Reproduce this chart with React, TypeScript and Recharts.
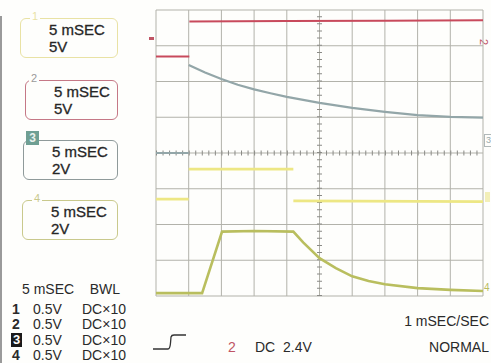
import React from "react";
import { LineChart, Line, XAxis, YAxis, ReferenceLine } from "recharts";

// Time in divisions (0..10), amplitude in divisions (0..8, from bottom)
const divX = [0, 1, 2, 3, 4, 5, 6, 7, 8, 9, 10];
const divY = [0, 1, 2, 3, 4, 5, 6, 7, 8];

// Channel 1 (yellow): low, pulse high, back low
const ch1X = [0, 1, 1, 1, 4.2, 4.2, 4.2, 10];
const ch1Y = [2.71, 2.71, null, 3.55, 3.55, null, 2.66, 2.64];

// Channel 2 (red): step up at trigger
const ch2X = [0, 1.02, 1.02, 1.02, 4, 7, 10];
const ch2Y = [6.7, 6.7, null, 7.68, 7.69, 7.7, 7.71];

// Channel 3 (grey): baseline then decaying curve
const ch3X = [0, 1, 1, 1, 1.5, 2, 2.5, 3, 3.5, 4, 5, 6, 7, 8, 9, 10];
const ch3Y = [4.0, 4.0, null, 6.46, 6.25, 6.07, 5.91, 5.78, 5.67, 5.57, 5.4, 5.26, 5.15, 5.06, 5.01, 4.99];

// Channel 4 (green): ramp up, flat, exponential fall
const ch4X = [0, 1.41, 2.02, 3, 4.2, 4.5, 5, 5.5, 6, 6.5, 7, 8, 9, 10];
const ch4Y = [0.08, 0.08, 1.8, 1.82, 1.8, 1.5, 1.06, 0.78, 0.55, 0.42, 0.33, 0.22, 0.17, 0.14];

const boxes = [
  { label: "1", time: "5 mSEC", volts: "5V", color: "#e9e2a4" },
  { label: "2", time: "5 mSEC", volts: "5V", color: "#c57886" },
  { label: "3", time: "5 mSEC", volts: "2V", color: "#8f9a9a" },
  { label: "4", time: "5 mSEC", volts: "2V", color: "#c9c98c" },
];
const chanRows = ["1", "2", "3", "4"];
const chanScale = ["0.5V", "0.5V", "0.5V", "0.5V"];
const chanCoupling = ["DC×10", "DC×10", "DC×10", "DC×10"];

const pts = (xs: number[], ys: (number | null)[]) => xs.map((x, i) => ({ x, y: ys[i] }));

const FONT = "'Liberation Sans', Arial, sans-serif";
const boxTops = [18, 80, 140, 200];
const boxLefts = [20, 25, 23, 22];
const GRID = "#b2b2aa";

export default function App() {
  return (
    <div style={{ position: "absolute", left: 0, top: 0, width: 491, height: 363, background: "#fefefc", fontFamily: FONT, color: "#2a2a2a", overflow: "hidden" }}>
      <div style={{ position: "absolute", left: 0, top: 16, width: 2, height: 347, background: "#9a9a9a" }} />
      {boxes.map((b, i) => (
        <div key={b.label} style={{ position: "absolute", left: boxLefts[i], top: boxTops[i], width: 118 - boxLefts[i], height: 40, border: `1.5px solid ${b.color}`, borderRadius: 6, boxSizing: "border-box" }}>
          <div style={{ position: "absolute", left: 28, top: 2, fontSize: 15, lineHeight: "17px", color: "#262626", WebkitTextStroke: "0.3px #262626" }}>
            <div>{b.time}</div>
            <div>{b.volts}</div>
          </div>
          {i === 2 ? (
            <div style={{ position: "absolute", left: 2, top: -10, width: 13, height: 14, background: "#6f9f93", color: "#e8f0ec", fontSize: 12, lineHeight: "14px", textAlign: "center", fontWeight: 700 }}>3</div>
          ) : (
            <div style={{ position: "absolute", left: i === 1 ? 3 : 9, top: -9, padding: "0 2px", background: "#fefefc", fontSize: 11, lineHeight: "12px", color: i === 1 ? "#9a9a9a" : b.color }}>{b.label}</div>
          )}
        </div>
      ))}

      <div style={{ position: "absolute", left: 22, top: 281, fontSize: 14, whiteSpace: "pre" }}>5 mSEC    BWL</div>
      {chanRows.map((c, i) => (
        <div key={c} style={{ position: "absolute", left: 0, top: 301 + i * 15.3, fontSize: 14, lineHeight: "16px", whiteSpace: "pre", width: 150 }}>
          {i === 2 ? (
            <span style={{ position: "absolute", left: 11, top: 1, width: 11, height: 14, background: "#1a1a1a", color: "#fff", fontWeight: 700, textAlign: "center", lineHeight: "14px", fontSize: 13 }}>{c}</span>
          ) : (
            <span style={{ position: "absolute", left: 12, fontWeight: 700 }}>{c}</span>
          )}
          <span style={{ position: "absolute", left: 33 }}>{chanScale[i]}</span>
          <span style={{ position: "absolute", left: 82 }}>{chanCoupling[i]}</span>
        </div>
      ))}

      <svg style={{ position: "absolute", left: 150, top: 333 }} width={40} height={20}>
        <path d="M3 16 L18 16 Q20 16 20.5 10 L21 4 Q21.5 2 24 2 L36 2" fill="none" stroke="#333" strokeWidth={1.3} />
      </svg>
      <div style={{ position: "absolute", left: 228, top: 339, fontSize: 14, color: "#c05464" }}>2</div>
      <div style={{ position: "absolute", left: 255, top: 339, fontSize: 14, whiteSpace: "pre" }}>DC  2.4V</div>
      <div style={{ position: "absolute", right: 2, top: 313, fontSize: 14 }}>1 mSEC/SEC</div>
      <div style={{ position: "absolute", right: 2, top: 339, fontSize: 14 }}>NORMAL</div>

      <div style={{ position: "absolute", left: 149, top: 37, width: 5, height: 3, background: "#c05464" }} />
      <div style={{ position: "absolute", left: 481, top: 36, fontSize: 11, color: "#c05464", transform: "rotate(90deg)" }}>2</div>
      <div style={{ position: "absolute", left: 484, top: 134, width: 7, height: 11, border: "1px solid #b0b8b8", fontSize: 9, lineHeight: "11px", color: "#9aa", textAlign: "center" }}>3</div>
      <div style={{ position: "absolute", left: 485, top: 192, width: 5, height: 10, background: "#f3efb8" }} />
      <div style={{ position: "absolute", left: 484, top: 282, fontSize: 10, color: "#b8bc60" }}>4</div>

      <div style={{ position: "absolute", left: 0, top: 0 }}>
        <LineChart width={491} height={363} margin={{ top: 10, right: 8, bottom: 67, left: 156 }}>
          <XAxis type="number" dataKey="x" domain={[0, 10]} ticks={divX} hide />
          <YAxis type="number" domain={[0, 8]} ticks={divY} hide />
          {divX.map((v) => (
            <Line key={"gv" + v} data={[{ x: v, y: 0 }, { x: v, y: 8 }]} dataKey="y" type="linear" stroke={GRID} strokeWidth={1} dot={false} activeDot={false} isAnimationActive={false} />
          ))}
          {divY.map((v) => (
            <Line key={"gh" + v} data={[{ x: 0, y: v }, { x: 10, y: v }]} dataKey="y" type="linear" stroke={GRID} strokeWidth={1} dot={false} activeDot={false} isAnimationActive={false} />
          ))}
          <ReferenceLine y={4} stroke="#8a8a86" strokeWidth={5} strokeDasharray="1 5.54" />
          <ReferenceLine x={5} stroke="#8a8a86" strokeWidth={5} strokeDasharray="1 6.15" />
          <Line data={pts(ch3X, ch3Y)} dataKey="y" type="linear" stroke="#93a6a8" strokeWidth={2.2} dot={false} connectNulls={false} isAnimationActive={false} />
          <Line data={pts(ch2X, ch2Y)} dataKey="y" type="linear" stroke="#c84a5c" strokeWidth={2} dot={false} connectNulls={false} isAnimationActive={false} />
          <Line data={pts(ch1X, ch1Y)} dataKey="y" type="linear" stroke="#ede784" strokeWidth={2.6} dot={false} connectNulls={false} isAnimationActive={false} />
          <Line data={pts(ch4X, ch4Y)} dataKey="y" type="linear" stroke="#b9be5e" strokeWidth={2.6} dot={false} connectNulls={false} isAnimationActive={false} />
        </LineChart>
      </div>
    </div>
  );
}
